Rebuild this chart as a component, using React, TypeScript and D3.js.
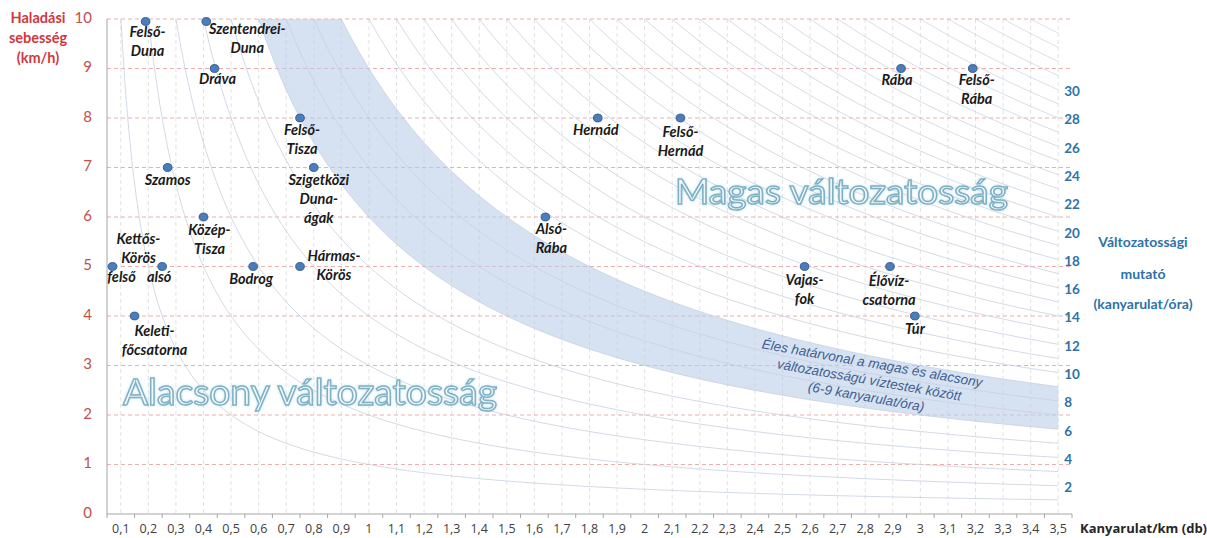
import React from "react";
import * as d3 from "d3";

// ---- data ----
const pointNames = [
  "Felső-Duna", "Szentendrei-Duna", "Dráva", "Felső-Tisza", "Szigetközi Duna-ágak",
  "Hernád", "Felső-Hernád", "Alsó-Rába", "Vajas-fok", "Élővíz-csatorna", "Túr",
  "Rába", "Felső-Rába", "Szamos", "Közép-Tisza", "Kettős-Körös felső", "Kettős-Körös alsó",
  "Bodrog", "Hármas-Körös", "Keleti-főcsatorna",
];
const bendsPerKm = [0.19, 0.41, 0.44, 0.75, 0.8, 1.83, 2.13, 1.64, 2.58, 2.89, 2.98, 2.93, 3.19, 0.27, 0.4, 0.07, 0.25, 0.58, 0.75, 0.15];
const speedKmh = [9.95, 9.95, 9, 8, 7, 8, 8, 6, 5, 5, 4, 9, 9, 7, 6, 5, 5, 5, 5, 4];
const labelLines = [
  ["Felső-", "Duna"], ["Szentendrei-", "Duna"], ["Dráva"], ["Felső-", "Tisza"], ["Szigetközi", "Duna-", "ágak"],
  ["Hernád"], ["Felső-", "Hernád"], ["Alsó-", "Rába"], ["Vajas-", "fok"], ["Élővíz-", "csatorna"], ["Túr"],
  ["Rába"], ["Felső-", "Rába"], ["Szamos"], ["Közép-", "Tisza"], ["felső"], ["alsó"],
  ["Bodrog"], ["Hármas-", "Körös"], ["Keleti-", "főcsatorna"],
];
const groupLabel = ["Kettős-", "Körös"];

// isolines: kanyarulat/óra = speed * bends/km
const isolines = [1, 2, 3, 4, 5, 6, 7, 8, 9, 10, 11, 12, 13, 14, 15, 16, 17, 18, 19, 20, 21, 22, 23, 24, 25, 26, 27, 28, 29, 30, 31, 32, 33, 34];
const rightLabels = [2, 4, 6, 8, 10, 12, 14, 16, 18, 20, 22, 24, 26, 28, 30];
const bandRange = [6, 9];
const yTicks = [0, 1, 2, 3, 4, 5, 6, 7, 8, 9, 10];
const xTicks = ["0,1", "0,2", "0,3", "0,4", "0,5", "0,6", "0,7", "0,8", "0,9", "1", "1,1", "1,2", "1,3", "1,4", "1,5", "1,6", "1,7", "1,8", "1,9", "2", "2,1", "2,2", "2,3", "2,4", "2,5", "2,6", "2,7", "2,8", "2,9", "3", "3,1", "3,2", "3,3", "3,4", "3,5"];

// ---- layout (label offsets from dot, px) ----
const labelOffsets: [number, number][] = [
  [2, 12], [41, 9], [3, 12], [2, 13], [5, 14],
  [-2, 13], [0, 15], [6, 13], [0, 15], [-1, 16], [0, 14],
  [-4, 13], [4, 13], [0, 14], [6, 14], [9, 12], [-3, 12],
  [-2, 14], [34, -9], [20, 16],
];
const groupOffset: [number, number] = [26, -26]; // relative to "felső" dot

const W = 1207, H = 538;
const L = 107, R = 1072, T = 19, B = 514;

export default function App() {
  const x = d3.scaleLinear().domain([0.05, 3.55]).range([L, R]);
  const y = d3.scaleLinear().domain([0, 10]).range([B, T]);
  const xNum = (s: string) => parseFloat(s.replace(",", "."));
  const xMax = xNum(xTicks[xTicks.length - 1]);
  const xMin = xNum(xTicks[0]);

  const curvePath = (c: number) => {
    const start = Math.max(xMin, c / 10);
    const pts = d3.range(0, 241).map((i) => start + ((xMax - start) * i) / 240);
    return d3
      .line<number>()
      .x((v) => x(v))
      .y((v) => y(Math.min(10, c / v)))(pts);
  };
  const bStart = bandRange[0] / 10;
  const bandPts = d3.range(0, 301).map((i) => bStart + ((xMax - bStart) * i) / 300);
  const bandPath = d3
    .area<number>()
    .x((v) => x(v))
    .y0((v) => y(Math.min(10, bandRange[0] / v)))
    .y1((v) => y(Math.min(10, bandRange[1] / v)))(bandPts);

  const step = (R - L) / xTicks.length;
  const labelFont = "Lato, 'Open Sans', sans-serif";

  return (
    <svg width={W} height={H} style={{ position: "absolute", left: 0, top: 0, background: "#fff" }} fontFamily={labelFont}>
      <defs>
        <clipPath id="plot">
          <rect x={L} y={T - 1} width={R - L} height={B - T + 1} />
        </clipPath>
        <filter id="glow" x="-5%" y="-20%" width="110%" height="140%">
          <feGaussianBlur in="SourceAlpha" stdDeviation="1.5" result="b" />
          <feFlood floodColor="#9fd0e0" floodOpacity="0.6" />
          <feComposite in2="b" operator="in" result="g" />
          <feMerge>
            <feMergeNode in="g" />
            <feMergeNode in="SourceGraphic" />
          </feMerge>
        </filter>
      </defs>
      {/* vertical gridlines */}
      {xTicks.map((t) => (
        <line key={"vg" + t} x1={x(xNum(t))} x2={x(xNum(t))} y1={T} y2={B} stroke="#dadada" strokeDasharray="4,3" strokeWidth={0.8} />
      ))}
      {/* horizontal gridlines */}
      {yTicks.filter((v) => v > 0).map((v) => (
        <line key={"hg" + v} x1={L} x2={R} y1={y(v)} y2={y(v)} stroke="#eaa5a5" strokeDasharray="4,3" strokeWidth={0.9} />
      ))}
      <g clipPath="url(#plot)">
        <path d={bandPath || ""} fill="#b9cde9" fillOpacity={0.58} />
        {isolines.map((c) => (
          <path key={"c" + c} d={curvePath(c) || ""} fill="none" stroke="#c6cfde" strokeWidth={0.8} />
        ))}
      </g>
      {/* axes */}
      <line x1={L} x2={L} y1={T} y2={B} stroke="#a6a6a6" />
      <line x1={L} x2={R} y1={B} y2={B} stroke="#a6a6a6" />
      {d3.range(0, xTicks.length + 1).map((i) => (
        <line key={"tk" + i} x1={L + i * step} x2={L + i * step} y1={B} y2={B + 4} stroke="#a6a6a6" />
      ))}
      {xTicks.map((t) => (
        <text key={"xl" + t} x={x(xNum(t))} y={530} textAnchor="middle" dominantBaseline="middle" fontSize={12.5} fill="#404040" fontFamily="'Open Sans', sans-serif">
          {t}
        </text>
      ))}
      <text x={1080} y={530} dominantBaseline="middle" fontSize={13} fontWeight="bold" fill="#262626" fontFamily="'Open Sans', sans-serif">
        Kanyarulat/km (db)
      </text>
      {yTicks.map((v) => (
        <text key={"yl" + v} x={92} y={y(v)} textAnchor="end" dominantBaseline="middle" fontSize={15} fill="#c0504d">
          {v}
        </text>
      ))}
      {["Haladási", "sebesség", "(km/h)"].map((s, i) => (
        <text key={s} x={38} y={19 + i * 20} textAnchor="middle" dominantBaseline="middle" fontSize={14.5} fontWeight="bold" fill="#d2373c">
          {s}
        </text>
      ))}
      {/* right labels */}
      {rightLabels.map((c) => (
        <text key={"rl" + c} x={x(xMax) + 6} y={y(c / xMax) + 3} dominantBaseline="middle" fontSize={13.5} fontWeight="bold" fill="#2e72a8">
          {c}
        </text>
      ))}
      {["Változatossági", "mutató", "(kanyarulat/óra)"].map((s, i) => (
        <text key={s} x={1143} y={[243, 275, 305][i]} textAnchor="middle" dominantBaseline="middle" fontSize={14} fontWeight="bold" fill="#2e72a8">
          {s}
        </text>
      ))}
      {/* big region texts */}
      <g filter="url(#glow)">
        <text x={123} y={405} fontSize={37} fill="#f2f9fc" stroke="#7fb0c4" strokeWidth={1.5} textLength={374} lengthAdjust="spacingAndGlyphs">
          Alacsony változatosság
        </text>
        <text x={675} y={204} fontSize={35} fill="#f2f9fc" stroke="#7fb0c4" strokeWidth={1.5} textLength={333} lengthAdjust="spacingAndGlyphs">
          Magas változatosság
        </text>
      </g>
      {/* band annotation */}
      <g transform="translate(869,381) rotate(10)" fontFamily="'Liberation Sans', Arial, sans-serif" fontStyle="italic" fontSize={13.5} fill="#3f5f91">
        {["Éles határvonal a magas és alacsony", "változatosságú víztestek között", "(6-9 kanyarulat/óra)"].map((s, i) => (
          <text key={s} x={0} y={(i - 1) * 17} textAnchor="middle" dominantBaseline="middle">
            {s}
          </text>
        ))}
      </g>
      {/* points */}
      {pointNames.map((n, i) => {
        const cx = x(bendsPerKm[i]);
        const cy = y(speedKmh[i]);
        const [dx, dy] = labelOffsets[i];
        return (
          <g key={n}>
            <ellipse cx={cx} cy={cy} rx={4.3} ry={3.9} fill="#4a7ebb" stroke="#385f90" strokeWidth={1} />
            {labelLines[i].map((s, j) => (
              <text key={s + j} x={cx + dx} y={cy + dy + j * 19} textAnchor="middle" dominantBaseline="middle" fontSize={14.5} fontWeight="bold" fontStyle="italic" fill="#1a1a1a">
                {s}
              </text>
            ))}
          </g>
        );
      })}
      {(() => {
        const i = pointNames.indexOf("Kettős-Körös felső");
        const cx = x(bendsPerKm[i]);
        const cy = y(speedKmh[i]);
        return groupLabel.map((s, j) => (
          <text key={"g" + j} x={cx + groupOffset[0]} y={cy + groupOffset[1] + j * 19} textAnchor="middle" dominantBaseline="middle" fontSize={14.5} fontWeight="bold" fontStyle="italic" fill="#1a1a1a">
            {s}
          </text>
        ));
      })()}
    </svg>
  );
}
